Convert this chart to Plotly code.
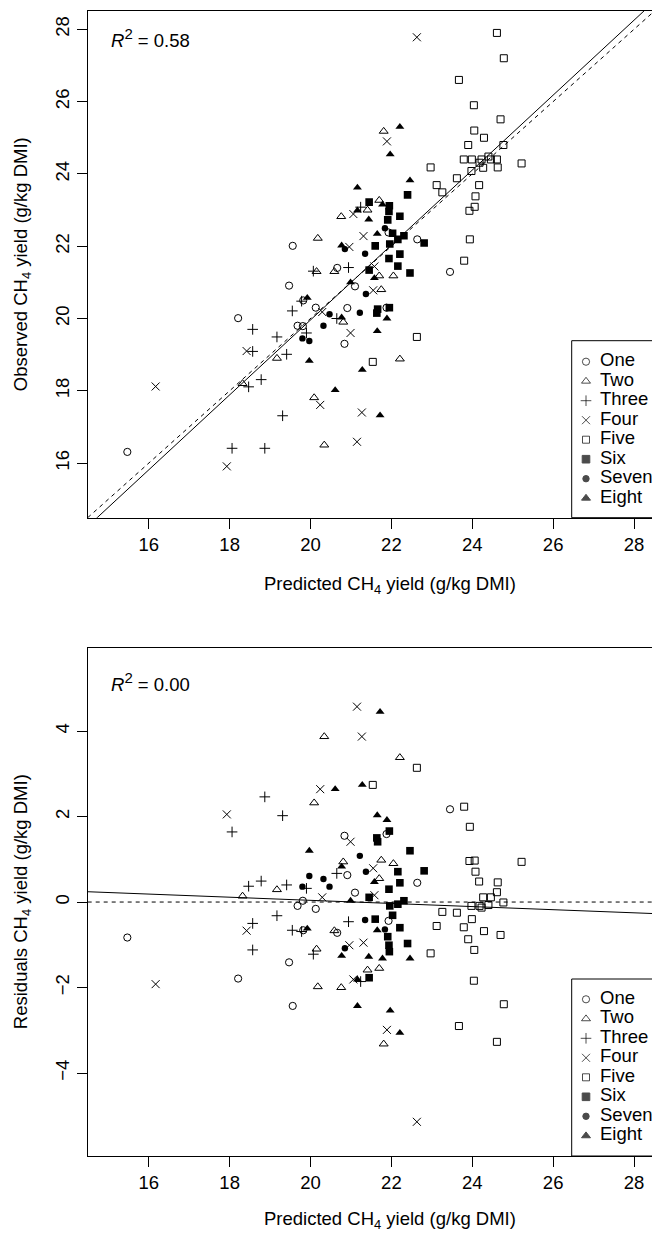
import plotly.graph_objects as go

W, H = 652, 1234

# ---------------- data ----------------
groups = ["One", "Two", "Three", "Four", "Five", "Six", "Seven", "Eight"]

one_pred = [15.47, 18.21, 19.47, 19.56, 19.68, 19.81, 20.13, 20.66, 20.84, 20.91, 21.10, 21.88, 22.64, 23.45, 19.82, 21.93]
one_obs = [16.31, 20.01, 20.91, 22.01, 19.80, 19.79, 20.30, 21.40, 19.30, 20.29, 20.89, 20.30, 22.19, 21.29, 20.50, 22.38]
one_res = [-0.83, -1.79, -1.41, -2.43, -0.09, 0.03, -0.16, -0.72, 1.55, 0.63, 0.22, 1.59, 0.45, 2.17, -0.66, -0.44]

two_pred = [18.32, 19.17, 20.09, 20.34, 20.15, 20.59, 20.81, 20.18, 20.76, 21.41, 21.70, 21.81, 21.70, 22.05, 21.75, 22.21]
two_obs = [18.20, 18.90, 17.81, 16.50, 21.30, 21.30, 19.90, 22.22, 22.82, 23.00, 23.27, 25.18, 21.18, 21.18, 20.80, 18.88]
two_res = [0.14, 0.29, 2.32, 3.87, -1.10, -0.67, 0.94, -1.98, -2.00, -1.59, -1.55, -3.32, 0.55, 0.90, 0.98, 3.38]

three_pred = [18.06, 18.87, 18.57, 18.57, 18.47, 18.78, 19.17, 19.41, 19.31, 19.55, 19.78, 19.90, 20.07, 20.94, 20.65, 21.24]
three_obs = [16.41, 16.41, 19.70, 19.09, 18.11, 18.31, 19.49, 19.01, 17.31, 20.21, 20.48, 19.60, 21.31, 21.41, 20.00, 23.08]
three_res = [1.64, 2.46, -1.12, -0.50, 0.37, 0.49, -0.32, 0.40, 2.02, -0.66, -0.69, 0.32, -1.22, -0.46, 0.67, -1.86]

four_pred = [16.17, 17.93, 18.42, 20.24, 20.99, 21.27, 21.15, 21.06, 20.96, 22.63, 21.89, 21.31, 21.58, 21.55, 20.29]
four_obs = [18.12, 15.91, 19.10, 17.61, 19.60, 17.40, 16.59, 22.89, 21.98, 27.78, 24.90, 22.28, 21.44, 20.78, 20.18]
four_res = [-1.92, 2.05, -0.67, 2.64, 1.41, 3.87, 4.57, -1.81, -1.01, -5.14, -2.99, -0.95, 0.16, 0.79, 0.11]

five_pred = [24.61, 24.78, 23.67, 24.04, 24.70, 24.05, 24.29, 23.90, 24.77, 23.79, 23.99, 24.23, 24.46, 24.61, 24.40, 24.18,
             24.27, 24.63, 25.22, 23.98, 22.97, 23.62, 23.12, 23.26, 24.17, 24.08, 24.06, 23.93, 23.94, 23.80, 22.63, 21.54]
five_obs = [27.90, 27.20, 26.60, 25.90, 25.51, 25.20, 25.00, 24.80, 24.80, 24.40, 24.40, 24.40, 24.40, 24.40, 24.48, 24.31,
            24.17, 24.18, 24.29, 24.08, 24.18, 23.88, 23.69, 23.49, 23.69, 23.38, 23.09, 22.98, 22.19, 21.60, 19.49, 18.80]
five_res = [-3.27, -2.39, -2.90, -1.84, -0.77, -1.12, -0.68, -0.87, -0.01, -0.59, -0.40, -0.13, 0.11, 0.23, -0.07, -0.09,
            0.11, 0.46, 0.94, -0.09, -1.20, -0.25, -0.56, -0.23, 0.48, 0.71, 0.97, 0.96, 1.76, 2.23, 3.14, 2.74]

six_pred = [22.40, 21.45, 21.95, 21.94, 22.21, 21.91, 22.03, 22.16, 22.31, 22.81, 21.96, 21.60, 22.21, 21.94, 22.16, 22.46,
            21.45, 21.66, 21.95, 21.64]
six_obs = [23.42, 23.22, 23.12, 22.96, 22.83, 22.73, 22.36, 22.19, 22.29, 22.09, 22.06, 22.01, 21.78, 21.66, 21.45, 21.26,
           21.34, 20.26, 20.30, 20.15]
six_res = [-0.97, -1.77, -1.16, -1.01, -0.60, -0.81, -0.31, -0.05, 0.03, 0.73, -0.09, -0.40, 0.45, 0.30, 0.71, 1.20,
           0.11, 1.41, 1.66, 1.50]

seven_pred = [19.80, 19.97, 20.32, 20.47, 21.22, 21.37, 21.35, 21.84, 20.85]
seven_obs = [19.45, 19.38, 19.80, 20.12, 20.16, 20.68, 21.79, 22.50, 21.92]
seven_res = [0.36, 0.61, 0.54, 0.36, 1.08, 0.71, -0.42, -0.64, -1.08]

eight_pred = [19.97, 20.61, 19.92, 20.77, 20.99, 21.28, 21.89, 21.65, 21.72, 21.58, 22.21, 21.97, 22.46, 21.16, 21.78,
              21.16, 21.44, 21.65, 20.77]
eight_obs = [18.83, 18.02, 20.57, 20.03, 21.00, 18.58, 20.00, 19.65, 17.32, 21.12, 25.30, 24.54, 23.82, 23.62, 23.15,
             22.99, 22.74, 22.34, 22.02]
eight_res = [1.20, 2.64, -0.62, 0.83, 0.03, 2.74, 1.92, 2.03, 4.45, 0.47, -3.06, -2.54, -1.32, -2.43, -1.32,
             -1.81, -1.28, -0.66, -1.26]

predicted = [one_pred, two_pred, three_pred, four_pred, five_pred, six_pred, seven_pred, eight_pred]
observed = [one_obs, two_obs, three_obs, four_obs, five_obs, six_obs, seven_obs, eight_obs]
residuals = [one_res, two_res, three_res, four_res, five_res, six_res, seven_res, eight_res]

x_ticks = [16, 18, 20, 22, 24, 26, 28]
obs_ticks = [16, 18, 20, 22, 24, 26, 28]
res_ticks = [-4, -2, 0, 2, 4]

fit_intercept = -0.77
fit_slope = 1.0365
r2_top = "0.58"
r2_bottom = "0.00"

# ---------------- styles ----------------
FONT = "Liberation Sans, Arial, Helvetica, sans-serif"
FS = 18.5
symbols = ["circle-open", "triangle-up-open", "cross-thin-open", "x-thin-open",
           "square-open", "square", "circle", "triangle-up"]
sizes = [7.2, 7.8, 7.6, 8, 7, 7.6, 6.4, 7.8]

X_LO, X_HI = 14.49, 28.445
Y_LO, Y_HI = 14.49, 28.515
R_LO, R_HI = -5.94, 5.935


def py(px_from_top):
    return 1 - px_from_top / H


def px(px_from_left):
    return px_from_left / W


PLOT_L = 87.7
TOP_T, TOP_B = 10.7, 517.7
BOT_T, BOT_B = 648.3, 1156.0

fig = go.Figure()

for i, g in enumerate(groups):
    mk = dict(symbol=symbols[i], size=sizes[i], color="black",
              line=dict(color="black", width=1 if symbols[i].endswith("open") else 0))
    fig.add_trace(go.Scatter(x=predicted[i], y=observed[i], mode="markers", marker=mk,
                             name=g, showlegend=False, xaxis="x", yaxis="y"))
    fig.add_trace(go.Scatter(x=predicted[i], y=residuals[i], mode="markers", marker=mk,
                             name=g, showlegend=False, xaxis="x2", yaxis="y2"))

# reference lines
line_x = [X_LO, X_HI]
fig.add_trace(go.Scatter(x=line_x, y=line_x, mode="lines", line=dict(color="black", width=1, dash="4px,4px"),
                         showlegend=False, xaxis="x", yaxis="y", hoverinfo="skip"))
fig.add_trace(go.Scatter(x=line_x, y=[fit_intercept + fit_slope * v for v in line_x], mode="lines",
                         line=dict(color="black", width=1), showlegend=False, xaxis="x", yaxis="y", hoverinfo="skip"))
fig.add_trace(go.Scatter(x=line_x, y=[0, 0], mode="lines", line=dict(color="black", width=1, dash="4px,4px"),
                         showlegend=False, xaxis="x2", yaxis="y2", hoverinfo="skip"))
fig.add_trace(go.Scatter(x=line_x, y=[-fit_intercept + (1 - fit_slope) * v for v in line_x], mode="lines",
                         line=dict(color="black", width=1), showlegend=False, xaxis="x2", yaxis="y2", hoverinfo="skip"))

# custom legends on a pixel-coordinate overlay axis
LEG_X0 = 571.7
LEG_MARK_X = 586
LEG_TEXT_X = 600
LEG_STEP = 19.5
for top_box, first_row, bottom_box in [(340.7, 361.7, TOP_B), (979.0, 999.3, BOT_B)]:
    rows = [first_row + k * LEG_STEP for k in range(len(groups))]
    fig.add_shape(type="rect", xref="paper", yref="paper", x0=px(LEG_X0), x1=px(W + 20),
                  y0=py(bottom_box), y1=py(top_box), line=dict(color="black", width=1),
                  fillcolor="white", layer="below")
    fig.add_trace(go.Scatter(x=[LEG_MARK_X] * len(groups), y=rows, mode="markers",
                             marker=dict(symbol=symbols, size=sizes, color="black",
                                         line=dict(color="black", width=1)),
                             showlegend=False, xaxis="x3", yaxis="y3", hoverinfo="skip"))
    fig.add_trace(go.Scatter(x=[LEG_TEXT_X] * len(groups), y=rows, mode="text", text=groups,
                             textposition="middle right", textfont=dict(family=FONT, size=FS, color="black"),
                             showlegend=False, xaxis="x3", yaxis="y3", hoverinfo="skip"))

axis_common = dict(showgrid=False, zeroline=False, showline=True, linecolor="black", linewidth=1,
                   ticks="outside", ticklen=10, tickwidth=1, tickcolor="black",
                   tickfont=dict(family=FONT, size=FS, color="black"))

fig.update_layout(
    width=W, height=H, margin=dict(l=0, r=0, t=0, b=0),
    paper_bgcolor="white", plot_bgcolor="rgba(0,0,0,0)",
    font=dict(family=FONT, size=FS, color="black"),
    xaxis=dict(domain=[px(PLOT_L), 1], range=[X_LO, X_HI], tickvals=x_ticks, mirror=True,
               anchor="y", **axis_common),
    yaxis=dict(domain=[py(TOP_B), py(TOP_T)], range=[Y_LO, Y_HI], tickvals=obs_ticks, tickangle=-90,
               anchor="x", **axis_common),
    xaxis2=dict(domain=[px(PLOT_L), 1], range=[X_LO, X_HI], tickvals=x_ticks, mirror=True,
                anchor="y2", **axis_common),
    yaxis2=dict(domain=[py(BOT_B), py(BOT_T)], range=[R_LO, R_HI], tickvals=res_ticks, tickangle=-90,
                anchor="x2", **axis_common),
    xaxis3=dict(domain=[0, 1], range=[0, W], visible=False, anchor="y3", fixedrange=True),
    yaxis3=dict(domain=[0, 1], range=[H, 0], visible=False, anchor="x3", fixedrange=True),
)

XLAB_CX = 390
SUP = "<sup><span style='font-size:15px'>2</span></sup>"
annotations = [
    dict(text="Predicted CH<sub>4</sub> yield (g/kg DMI)", x=px(XLAB_CX), y=py(TOP_B + 67),
         xanchor="center", yanchor="middle"),
    dict(text="Predicted CH<sub>4</sub> yield (g/kg DMI)", x=px(XLAB_CX), y=py(BOT_B + 64),
         xanchor="center", yanchor="middle"),
    dict(text="Observed CH<sub>4</sub> yield (g/kg DMI)", x=px(22), y=py((TOP_T + TOP_B) / 2),
         xanchor="center", yanchor="middle", textangle=-90),
    dict(text="Residuals CH<sub>4</sub> yield (g/kg DMI)", x=px(22), y=py((BOT_T + BOT_B) / 2),
         xanchor="center", yanchor="middle", textangle=-90),
    dict(text="<i>R</i>" + SUP + " = " + r2_top, x=px(109), y=py(38), xanchor="left", yanchor="middle"),
    dict(text="<i>R</i>" + SUP + " = " + r2_bottom, x=px(109), y=py(BOT_T + 34), xanchor="left", yanchor="middle"),
]
for a in annotations:
    a.update(xref="paper", yref="paper", showarrow=False, font=dict(family=FONT, size=FS, color="black"))
fig.update_layout(annotations=annotations)

fig.write_html("out.html")
